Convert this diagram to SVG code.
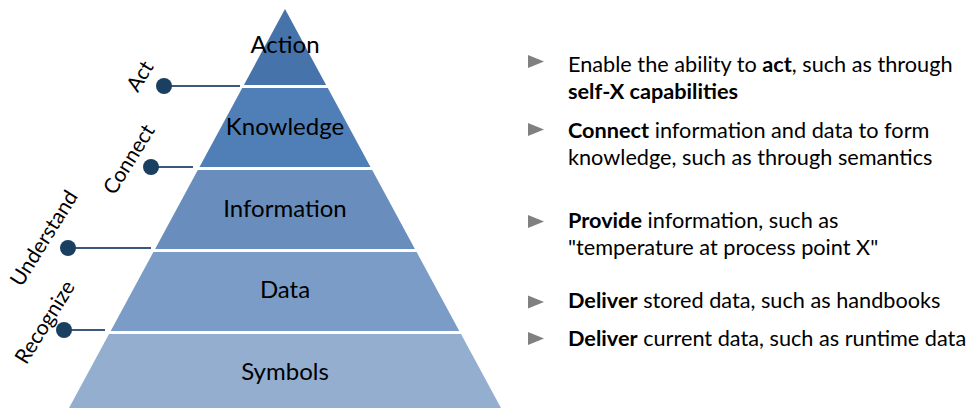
<svg xmlns="http://www.w3.org/2000/svg" width="972" height="408" viewBox="0 0 972 408">
<style>
.lvl{font-family:Lato,"Liberation Sans",sans-serif;font-size:24px;fill:#000;text-anchor:middle}
.side{font-family:Lato,"Liberation Sans",sans-serif;font-size:21px;fill:#000;text-anchor:middle}
.txt{font-family:Lato,"Liberation Sans",sans-serif;font-size:21.7px;fill:#000}
.b{font-weight:bold}
.bul{fill:#808080}
.dot{fill:#1b3f61}
.ln{stroke:#3b5878;stroke-width:2;fill:none}
</style>
<rect width="972" height="408" fill="#fff"/>
<g id="action"><polygon points="285,9 326.1,85 243.9,85" fill="#4673a9"/><text class="lvl" x="285" y="53">Action</text></g>
<g id="knowledge"><polygon points="242.2,88 327.8,88 370.5,167 199.5,167" fill="#4f7fb6"/><text class="lvl" x="285" y="135">Knowledge</text></g>
<g id="information"><polygon points="197.8,170 372.2,170 414.9,249 155.1,249" fill="#698ebd"/><text class="lvl" x="285" y="217">Information</text></g>
<g id="data"><polygon points="153.4,252 416.6,252 459.3,331 110.7,331" fill="#7a9cc6"/><text class="lvl" x="285" y="298">Data</text></g>
<g id="symbols"><polygon points="109,334 461,334 501,408 69,408" fill="#94aed0"/><text class="lvl" x="285" y="380">Symbols</text></g>
<g id="connectors">
<line class="ln" x1="164" y1="86" x2="240" y2="86"/>
<line class="ln" x1="151" y1="167" x2="193" y2="167"/>
<line class="ln" x1="68" y1="248" x2="151" y2="248"/>
<line class="ln" x1="64" y1="330" x2="105" y2="330"/>
<circle class="dot" cx="164" cy="86" r="8"/>
<circle class="dot" cx="151" cy="167" r="8"/>
<circle class="dot" cx="68" cy="248" r="8"/>
<circle class="dot" cx="64" cy="330" r="8"/>
</g>
<g id="side-labels">
<text class="side" transform="translate(146,80) rotate(-58)">Act</text>
<text class="side" transform="translate(135,163) rotate(-58)">Connect</text>
<text class="side" transform="translate(50,242) rotate(-58)">Understand</text>
<text class="side" transform="translate(51,326) rotate(-58)">Recognize</text>
</g>
<g id="bullets">
<polygon class="bul" points="528,55 544,61.5 528,68"/>
<polygon class="bul" points="528,123 544,129.5 528,136"/>
<polygon class="bul" points="528,215 544,221.5 528,228"/>
<polygon class="bul" points="528,295.5 544,302 528,308.5"/>
<polygon class="bul" points="528,332 544,338.5 528,345"/>
<text class="txt" x="568" y="72">Enable the ability to <tspan class="b">act</tspan>, such as through</text>
<text class="txt b" x="568" y="99">self-X capabilities</text>
<text class="txt" x="568" y="138"><tspan class="b">Connect</tspan> information and data to form</text>
<text class="txt" x="568" y="165">knowledge, such as through semantics</text>
<text class="txt" x="568" y="228"><tspan class="b">Provide</tspan> information, such as</text>
<text class="txt" x="568" y="255">"temperature at process point X"</text>
<text class="txt" x="568" y="308"><tspan class="b">Deliver</tspan> stored data, such as handbooks</text>
<text class="txt" x="568" y="346"><tspan class="b">Deliver</tspan> current data, such as runtime data</text>
</g>
</svg>
